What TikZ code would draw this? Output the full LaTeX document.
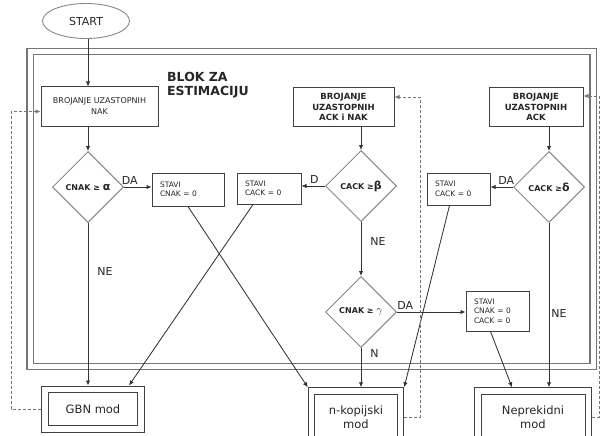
\documentclass[tikz,border=0pt]{standalone}
\usepackage{fontspec}
\setmainfont{DejaVu Sans}
\usetikzlibrary{shapes.geometric,arrows.meta}
\definecolor{tekst}{HTML}{262626}
\definecolor{ivica}{HTML}{404040}
\definecolor{sivoromb}{HTML}{888888}
\definecolor{sivookvir}{HTML}{757575}
\definecolor{linija}{HTML}{333333}

\begin{document}
\begin{tikzpicture}[x=1pt,y=-1pt]
	% stilovi
	\tikzstyle{pocetak}=[ellipse,draw=sivoromb,line width=0.9pt,minimum width=87,minimum height=35,inner sep=0pt,text=tekst,font=\fontsize{11}{13}\selectfont]
	\tikzstyle{brojanje}=[rectangle,draw=ivica,line width=1pt,inner sep=0pt,align=center,text=tekst]
	\tikzstyle{stavi}=[rectangle,draw=ivica,line width=1pt,inner xsep=8pt,inner ysep=0pt,align=left,text=tekst,font=\fontsize{7.5}{9.5}\selectfont]
	\tikzstyle{uslov}=[diamond,draw=sivoromb,line width=1pt,inner sep=0pt,minimum width=71,minimum height=71,text=tekst,font=\bfseries\fontsize{8}{10}\selectfont]
	\tikzstyle{rezim}=[rectangle,draw=ivica,line width=1pt,double,double distance=5.5pt,outer sep=3.75pt,inner sep=0pt,align=center,text=tekst,font=\fontsize{11.5}{14}\selectfont]
	\tikzstyle{tok}=[draw=linija,line width=0.85pt,-{Latex[length=5pt,width=4.5pt]}]
	\tikzstyle{povrat}=[tok,draw=sivookvir,dash pattern=on 3pt off 2pt]
	\tikzstyle{oznaka}=[text=tekst,font=\fontsize{11}{13}\selectfont,inner sep=2pt]
	% okvir bloka
	\useasboundingbox (0,0) rectangle (600,436);
	\draw[draw=sivookvir,line width=1.4pt,double,double distance=5pt] (30,51.5) rectangle (593,366.5);
	\node[anchor=north west,align=left,text=tekst,font=\bfseries\fontsize{12.5}{14.5}\selectfont,inner sep=0pt] (naslov) at (167,72) {BLOK ZA\\ESTIMACIJU};
	% čvorovi
	\node[pocetak] (start) at (86,21) {START};
	\node[brojanje,minimum width=117,minimum height=39,font=\fontsize{8}{11}\selectfont] (nak) at (99.5,106.5) {BROJANJE UZASTOPNIH\\NAK};
	\node[brojanje,minimum width=101,minimum height=38,font=\bfseries\fontsize{8.5}{10.3}\selectfont] (acknak) at (343.5,107) {BROJANJE\\UZASTOPNIH\\ACK i NAK};
	\node[brojanje,minimum width=94,minimum height=38,font=\bfseries\fontsize{8.5}{10.3}\selectfont] (ack) at (536,107) {BROJANJE\\UZASTOPNIH\\ACK};
	\node[uslov] (alfa) at (88,187) {CNAK ≥ {\fontsize{11}{11}\selectfont α}};
	\node[uslov] (beta) at (361,186) {CACK ≥{\fontsize{11}{11}\selectfont β}};
	\node[uslov] (delta) at (549,187) {CACK ≥{\fontsize{11}{11}\selectfont δ}};
	\node[uslov] (gama) at (361,312) {CNAK ≥ {\fontsize{11}{11}\selectfont$\gamma$}};
	\node[stavi,text width=56,minimum height=33] (cnak0) at (188,189.5) {STAVI\\CNAK = 0};
	\node[stavi,text width=48,minimum height=31] (cack1) at (269,188.5) {STAVI\\CACK = 0};
	\node[stavi,text width=47,minimum height=32] (cack2) at (458.5,189) {STAVI\\CACK = 0};
	\node[stavi,text width=47,minimum height=40] (oba) at (497.5,311) {STAVI\\CNAK = 0\\CACK = 0};
	\node[rezim,minimum width=96,minimum height=39.5] (gbn) at (93,409) {GBN mod};
	\node[rezim,minimum width=89,minimum height=52] (nkop) at (356,417) {n-kopijski\\mod};
	\node[rezim,minimum width=110.5,minimum height=52] (neprek) at (533,417) {Neprekidni\\mod};
	% strelice
	\draw[tok] (start.south -| alfa.north) -- (nak.north -| alfa.north);
	\draw[tok] (nak.south -| alfa.north) -- (alfa.north);
	\draw[tok] (alfa.east) -- (alfa.east -| cnak0.west) node[oznaka,pos=0.21,above] {DA};
	\draw[tok] (alfa.south) -- (alfa.south |- gbn.north) node[oznaka,pos=0.3,right,xshift=7pt] {NE};
	\draw[tok] (cnak0.south) -- (nkop.north west);
	\draw[tok] ([xshift=-16pt]cack1.south) -- ([xshift=36pt]gbn.north);
	\draw[tok] (acknak.south -| beta.north) -- (beta.north);
	\draw[tok] (beta.west) -- (beta.west -| cack1.east) node[oznaka,pos=0.45,above] {D};
	\draw[tok] (beta.south) -- (gama.north) node[oznaka,pos=0.37,right,xshift=7pt] {NE};
	\draw[tok] (gama.south) -- (gama.south |- nkop.north) node[oznaka,pos=0.15,right,xshift=7pt] {N};
	\draw[tok] (gama.east) -- (gama.east -| oba.west) node[oznaka,pos=0.12,above] {DA};
	\draw[tok] ([xshift=-7pt]oba.south) -- ([xshift=-21pt]neprek.north);
	\draw[tok] (ack.south -| delta.north) -- (delta.north);
	\draw[tok] (delta.west) -- (delta.west -| cack2.east) node[oznaka,pos=0.3,above] {DA};
	\draw[tok] (delta.south) -- (delta.south |- neprek.north) node[oznaka,pos=0.55,right] {NE};
	\draw[tok] ([xshift=-9pt]cack2.south) -- (nkop.north east);
	% povratne veze
	\draw[povrat] (gbn.west) -- ++(-30,0) |- ([yshift=-5pt]nak.west);
	\draw[povrat] (nkop.east) -- ++(16,0) |- ([yshift=10pt]acknak.east);
	\draw[povrat] (neprek.east) -- ++(7,0) |- ([yshift=11pt]ack.east);
\end{tikzpicture}
\end{document}
